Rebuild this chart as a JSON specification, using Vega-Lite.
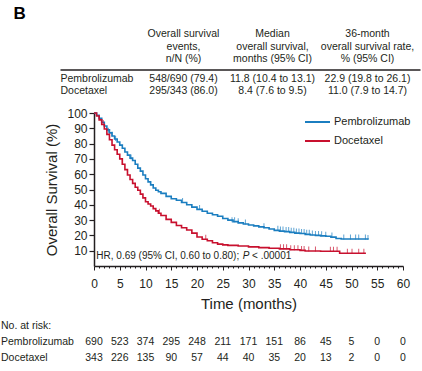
{
  "$schema": "https://vega.github.io/schema/vega-lite/v6.json",
  "padding": {"left": 0, "top": 5, "right": 0, "bottom": 0},
  "spacing": 10,
  "config": {
    "view": {"stroke": null},
    "font": "Liberation Sans",
    "text": {"font": "Liberation Sans", "color": "#231f20"},
    "axis": {"grid": false, "labelOverlap": false, "labelFont": "Liberation Sans", "titleFont": "Liberation Sans", "labelColor": "#231f20", "titleColor": "#231f20", "domainColor": "#231f20", "tickColor": "#231f20", "titleFontWeight": "normal"}
  },
  "datasets": {
    "survival": [
      {"group": "Pembrolizumab", "time": 0, "surv": 100},
      {"group": "Pembrolizumab", "time": 0.5, "surv": 98.5},
      {"group": "Pembrolizumab", "time": 1, "surv": 96.5},
      {"group": "Pembrolizumab", "time": 1.5, "surv": 94},
      {"group": "Pembrolizumab", "time": 2, "surv": 91.5},
      {"group": "Pembrolizumab", "time": 2.5, "surv": 89},
      {"group": "Pembrolizumab", "time": 3, "surv": 87},
      {"group": "Pembrolizumab", "time": 3.5, "surv": 85},
      {"group": "Pembrolizumab", "time": 4, "surv": 83},
      {"group": "Pembrolizumab", "time": 4.5, "surv": 81},
      {"group": "Pembrolizumab", "time": 5, "surv": 79},
      {"group": "Pembrolizumab", "time": 5.5, "surv": 77},
      {"group": "Pembrolizumab", "time": 6, "surv": 74.5},
      {"group": "Pembrolizumab", "time": 6.5, "surv": 72.5},
      {"group": "Pembrolizumab", "time": 7, "surv": 70.5},
      {"group": "Pembrolizumab", "time": 7.5, "surv": 69},
      {"group": "Pembrolizumab", "time": 8, "surv": 66.5},
      {"group": "Pembrolizumab", "time": 8.5, "surv": 64},
      {"group": "Pembrolizumab", "time": 9, "surv": 62},
      {"group": "Pembrolizumab", "time": 9.5, "surv": 59.5},
      {"group": "Pembrolizumab", "time": 10, "surv": 57},
      {"group": "Pembrolizumab", "time": 10.5, "surv": 55},
      {"group": "Pembrolizumab", "time": 11, "surv": 53},
      {"group": "Pembrolizumab", "time": 11.5, "surv": 51},
      {"group": "Pembrolizumab", "time": 12, "surv": 49.5},
      {"group": "Pembrolizumab", "time": 12.5, "surv": 48.5},
      {"group": "Pembrolizumab", "time": 13, "surv": 47.5},
      {"group": "Pembrolizumab", "time": 14, "surv": 45.5},
      {"group": "Pembrolizumab", "time": 15, "surv": 44},
      {"group": "Pembrolizumab", "time": 16, "surv": 43},
      {"group": "Pembrolizumab", "time": 17, "surv": 41.5},
      {"group": "Pembrolizumab", "time": 18, "surv": 40},
      {"group": "Pembrolizumab", "time": 19, "surv": 38.5},
      {"group": "Pembrolizumab", "time": 20, "surv": 37},
      {"group": "Pembrolizumab", "time": 21, "surv": 35.8},
      {"group": "Pembrolizumab", "time": 22, "surv": 34.5},
      {"group": "Pembrolizumab", "time": 23, "surv": 33.5},
      {"group": "Pembrolizumab", "time": 24, "surv": 32.5},
      {"group": "Pembrolizumab", "time": 25, "surv": 31},
      {"group": "Pembrolizumab", "time": 26, "surv": 30},
      {"group": "Pembrolizumab", "time": 27, "surv": 29},
      {"group": "Pembrolizumab", "time": 28, "surv": 28.2},
      {"group": "Pembrolizumab", "time": 29, "surv": 27.5},
      {"group": "Pembrolizumab", "time": 30, "surv": 26.8},
      {"group": "Pembrolizumab", "time": 31, "surv": 26.2},
      {"group": "Pembrolizumab", "time": 32, "surv": 25.6},
      {"group": "Pembrolizumab", "time": 33, "surv": 25},
      {"group": "Pembrolizumab", "time": 34, "surv": 24.2},
      {"group": "Pembrolizumab", "time": 35, "surv": 23.3},
      {"group": "Pembrolizumab", "time": 36, "surv": 22.8},
      {"group": "Pembrolizumab", "time": 37, "surv": 22.5},
      {"group": "Pembrolizumab", "time": 38, "surv": 22},
      {"group": "Pembrolizumab", "time": 39, "surv": 21.5},
      {"group": "Pembrolizumab", "time": 40, "surv": 21.2},
      {"group": "Pembrolizumab", "time": 41, "surv": 20.7},
      {"group": "Pembrolizumab", "time": 42, "surv": 20.3},
      {"group": "Pembrolizumab", "time": 43, "surv": 20},
      {"group": "Pembrolizumab", "time": 44, "surv": 19.7},
      {"group": "Pembrolizumab", "time": 45, "surv": 19.4},
      {"group": "Pembrolizumab", "time": 46, "surv": 18.9},
      {"group": "Pembrolizumab", "time": 47, "surv": 18},
      {"group": "Pembrolizumab", "time": 48, "surv": 17.6},
      {"group": "Pembrolizumab", "time": 53.2, "surv": 17.4},
      {"group": "Docetaxel", "time": 0, "surv": 100},
      {"group": "Docetaxel", "time": 0.5, "surv": 98},
      {"group": "Docetaxel", "time": 1, "surv": 95.5},
      {"group": "Docetaxel", "time": 1.5, "surv": 92.5},
      {"group": "Docetaxel", "time": 2, "surv": 89.5},
      {"group": "Docetaxel", "time": 2.5, "surv": 86},
      {"group": "Docetaxel", "time": 3, "surv": 82.5},
      {"group": "Docetaxel", "time": 3.5, "surv": 79},
      {"group": "Docetaxel", "time": 4, "surv": 76},
      {"group": "Docetaxel", "time": 4.5, "surv": 73},
      {"group": "Docetaxel", "time": 5, "surv": 70},
      {"group": "Docetaxel", "time": 5.5, "surv": 66.5},
      {"group": "Docetaxel", "time": 6, "surv": 63},
      {"group": "Docetaxel", "time": 6.5, "surv": 59.5},
      {"group": "Docetaxel", "time": 7, "surv": 56.5},
      {"group": "Docetaxel", "time": 7.5, "surv": 54},
      {"group": "Docetaxel", "time": 8, "surv": 51.5},
      {"group": "Docetaxel", "time": 8.5, "surv": 49.5},
      {"group": "Docetaxel", "time": 9, "surv": 47},
      {"group": "Docetaxel", "time": 9.5, "surv": 44.5},
      {"group": "Docetaxel", "time": 10, "surv": 42},
      {"group": "Docetaxel", "time": 10.5, "surv": 40.5},
      {"group": "Docetaxel", "time": 11, "surv": 39.2},
      {"group": "Docetaxel", "time": 11.5, "surv": 37.5},
      {"group": "Docetaxel", "time": 12, "surv": 36},
      {"group": "Docetaxel", "time": 12.5, "surv": 34.5},
      {"group": "Docetaxel", "time": 13, "surv": 33},
      {"group": "Docetaxel", "time": 14, "surv": 30.5},
      {"group": "Docetaxel", "time": 15, "surv": 28.5},
      {"group": "Docetaxel", "time": 16, "surv": 26.5},
      {"group": "Docetaxel", "time": 17, "surv": 25},
      {"group": "Docetaxel", "time": 18, "surv": 23.5},
      {"group": "Docetaxel", "time": 19, "surv": 21.5},
      {"group": "Docetaxel", "time": 20, "surv": 19},
      {"group": "Docetaxel", "time": 21, "surv": 17.5},
      {"group": "Docetaxel", "time": 22, "surv": 16.5},
      {"group": "Docetaxel", "time": 23, "surv": 15.2},
      {"group": "Docetaxel", "time": 24, "surv": 14.3},
      {"group": "Docetaxel", "time": 25, "surv": 13.8},
      {"group": "Docetaxel", "time": 26, "surv": 13.5},
      {"group": "Docetaxel", "time": 28, "surv": 13.1},
      {"group": "Docetaxel", "time": 30, "surv": 12.5},
      {"group": "Docetaxel", "time": 32, "surv": 12},
      {"group": "Docetaxel", "time": 34, "surv": 11.6},
      {"group": "Docetaxel", "time": 36, "surv": 11.2},
      {"group": "Docetaxel", "time": 38, "surv": 10.6},
      {"group": "Docetaxel", "time": 40, "surv": 10.2},
      {"group": "Docetaxel", "time": 41, "surv": 9.8},
      {"group": "Docetaxel", "time": 44, "surv": 9.6},
      {"group": "Docetaxel", "time": 47.7, "surv": 8.3},
      {"group": "Docetaxel", "time": 52.8, "surv": 8.3}
    ],
    "censor": [
      {"group": "Pembrolizumab", "time": 2.8, "surv": 87.5},
      {"group": "Pembrolizumab", "time": 3.5, "surv": 85},
      {"group": "Pembrolizumab", "time": 4.2, "surv": 82},
      {"group": "Pembrolizumab", "time": 7.2, "surv": 70},
      {"group": "Pembrolizumab", "time": 17.2, "surv": 41.5},
      {"group": "Pembrolizumab", "time": 20.5, "surv": 37},
      {"group": "Pembrolizumab", "time": 26.8, "surv": 29},
      {"group": "Pembrolizumab", "time": 27.3, "surv": 29},
      {"group": "Pembrolizumab", "time": 28, "surv": 28.2},
      {"group": "Pembrolizumab", "time": 29.4, "surv": 27.5},
      {"group": "Pembrolizumab", "time": 33, "surv": 25},
      {"group": "Pembrolizumab", "time": 35.7, "surv": 23.3},
      {"group": "Pembrolizumab", "time": 36.2, "surv": 22.8},
      {"group": "Pembrolizumab", "time": 36.7, "surv": 22.8},
      {"group": "Pembrolizumab", "time": 37.3, "surv": 22.5},
      {"group": "Pembrolizumab", "time": 37.8, "surv": 22.5},
      {"group": "Pembrolizumab", "time": 38.3, "surv": 22},
      {"group": "Pembrolizumab", "time": 38.8, "surv": 22},
      {"group": "Pembrolizumab", "time": 39.3, "surv": 21.5},
      {"group": "Pembrolizumab", "time": 39.8, "surv": 21.5},
      {"group": "Pembrolizumab", "time": 40.3, "surv": 21.2},
      {"group": "Pembrolizumab", "time": 40.8, "surv": 21.2},
      {"group": "Pembrolizumab", "time": 41.3, "surv": 20.7},
      {"group": "Pembrolizumab", "time": 41.8, "surv": 20.7},
      {"group": "Pembrolizumab", "time": 42.4, "surv": 20.3},
      {"group": "Pembrolizumab", "time": 43, "surv": 20},
      {"group": "Pembrolizumab", "time": 43.6, "surv": 20},
      {"group": "Pembrolizumab", "time": 44.2, "surv": 19.7},
      {"group": "Pembrolizumab", "time": 45, "surv": 19.4},
      {"group": "Pembrolizumab", "time": 46.2, "surv": 18.9},
      {"group": "Pembrolizumab", "time": 48.5, "surv": 17.6},
      {"group": "Pembrolizumab", "time": 49.8, "surv": 17.6},
      {"group": "Pembrolizumab", "time": 50.8, "surv": 17.6},
      {"group": "Pembrolizumab", "time": 51.4, "surv": 17.6},
      {"group": "Pembrolizumab", "time": 52.7, "surv": 17.6},
      {"group": "Pembrolizumab", "time": 53.2, "surv": 17.4},
      {"group": "Docetaxel", "time": 1.8, "surv": 92.5},
      {"group": "Docetaxel", "time": 5.5, "surv": 66.5},
      {"group": "Docetaxel", "time": 12.7, "surv": 34.5},
      {"group": "Docetaxel", "time": 21.7, "surv": 17.5},
      {"group": "Docetaxel", "time": 36.2, "surv": 11.2},
      {"group": "Docetaxel", "time": 36.8, "surv": 11.2},
      {"group": "Docetaxel", "time": 37.4, "surv": 11.2},
      {"group": "Docetaxel", "time": 38.2, "surv": 10.6},
      {"group": "Docetaxel", "time": 38.9, "surv": 10.6},
      {"group": "Docetaxel", "time": 39.6, "surv": 10.6},
      {"group": "Docetaxel", "time": 40.3, "surv": 10.2},
      {"group": "Docetaxel", "time": 40.8, "surv": 10.2},
      {"group": "Docetaxel", "time": 41.7, "surv": 9.8},
      {"group": "Docetaxel", "time": 43, "surv": 9.8},
      {"group": "Docetaxel", "time": 45.9, "surv": 9.6},
      {"group": "Docetaxel", "time": 46.5, "surv": 9.6},
      {"group": "Docetaxel", "time": 47.2, "surv": 9.6},
      {"group": "Docetaxel", "time": 49.2, "surv": 8.3},
      {"group": "Docetaxel", "time": 50.1, "surv": 8.3},
      {"group": "Docetaxel", "time": 51.4, "surv": 8.3},
      {"group": "Docetaxel", "time": 52.4, "surv": 8.3}
    ],
    "risk": [
      {"group": "Pembrolizumab", "time": 0, "n": 690},
      {"group": "Pembrolizumab", "time": 5, "n": 523},
      {"group": "Pembrolizumab", "time": 10, "n": 374},
      {"group": "Pembrolizumab", "time": 15, "n": 295},
      {"group": "Pembrolizumab", "time": 20, "n": 248},
      {"group": "Pembrolizumab", "time": 25, "n": 211},
      {"group": "Pembrolizumab", "time": 30, "n": 171},
      {"group": "Pembrolizumab", "time": 35, "n": 151},
      {"group": "Pembrolizumab", "time": 40, "n": 86},
      {"group": "Pembrolizumab", "time": 45, "n": 45},
      {"group": "Pembrolizumab", "time": 50, "n": 5},
      {"group": "Pembrolizumab", "time": 55, "n": 0},
      {"group": "Pembrolizumab", "time": 60, "n": 0},
      {"group": "Docetaxel", "time": 0, "n": 343},
      {"group": "Docetaxel", "time": 5, "n": 226},
      {"group": "Docetaxel", "time": 10, "n": 135},
      {"group": "Docetaxel", "time": 15, "n": 90},
      {"group": "Docetaxel", "time": 20, "n": 57},
      {"group": "Docetaxel", "time": 25, "n": 44},
      {"group": "Docetaxel", "time": 30, "n": 40},
      {"group": "Docetaxel", "time": 35, "n": 35},
      {"group": "Docetaxel", "time": 40, "n": 20},
      {"group": "Docetaxel", "time": 45, "n": 13},
      {"group": "Docetaxel", "time": 50, "n": 2},
      {"group": "Docetaxel", "time": 55, "n": 0},
      {"group": "Docetaxel", "time": 60, "n": 0}
    ],
    "table": [
      {"col": 1, "line": 1, "text": "Overall survival"},
      {"col": 1, "line": 2, "text": "events,"},
      {"col": 1, "line": 3, "text": "n/N (%)"},
      {"col": 2, "line": 1, "text": "Median"},
      {"col": 2, "line": 2, "text": "overall survival,"},
      {"col": 2, "line": 3, "text": "months (95% CI)"},
      {"col": 3, "line": 1, "text": "36-month"},
      {"col": 3, "line": 2, "text": "overall survival rate,"},
      {"col": 3, "line": 3, "text": "% (95% CI)"},
      {"col": 0, "line": 4, "text": "Pembrolizumab"},
      {"col": 1, "line": 4, "text": "548/690 (79.4)"},
      {"col": 2, "line": 4, "text": "11.8 (10.4 to 13.1)"},
      {"col": 3, "line": 4, "text": "22.9 (19.8 to 26.1)"},
      {"col": 0, "line": 5, "text": "Docetaxel"},
      {"col": 1, "line": 5, "text": "295/343 (86.0)"},
      {"col": 2, "line": 5, "text": "8.4 (7.6 to 9.5)"},
      {"col": 3, "line": 5, "text": "11.0 (7.9 to 14.7)"}
    ]
  },
  "vconcat": [
    {
      "width": 309,
      "height": 77,
      "layer": [
        {
          "data": {"values": [{}]},
          "mark": {"type": "text", "text": "B", "fontSize": 17, "fontWeight": "bold", "align": "left", "baseline": "middle", "color": "#000000"},
          "encoding": {
            "x": {"datum": -1, "type": "quantitative", "scale": {"domain": [-1, 0, 1, 2, 3, 4], "range": [-80.5, -33.5, 89.5, 178.5, 273.5, 326.5], "zero": false, "nice": false}, "axis": null},
            "y": {"datum": 0, "type": "quantitative", "scale": {"domain": [0, 1, 3, 3.5, 4, 5], "range": [0, 20, 45, 55, 65, 77], "zero": false, "nice": false}, "axis": null}
          }
        },
        {
          "data": {"name": "table"},
          "transform": [{"filter": "datum.col == 0"}],
          "mark": {"type": "text", "align": "left", "baseline": "middle", "fontSize": 10.5},
          "encoding": {
            "x": {"datum": 0, "type": "quantitative", "axis": null},
            "y": {"field": "line", "type": "quantitative", "axis": null},
            "text": {"field": "text"}
          }
        },
        {
          "data": {"name": "table"},
          "transform": [{"filter": "datum.col > 0"}],
          "mark": {"type": "text", "align": "center", "baseline": "middle", "fontSize": 10.5},
          "encoding": {
            "x": {"field": "col", "type": "quantitative", "axis": null},
            "y": {"field": "line", "type": "quantitative", "axis": null},
            "text": {"field": "text"}
          }
        },
        {
          "data": {"values": [{}]},
          "mark": {"type": "rule", "strokeWidth": 1.5, "color": "#231f20"},
          "encoding": {
            "x": {"datum": 0, "type": "quantitative", "axis": null},
            "x2": {"datum": 4},
            "y": {"datum": 3.55, "type": "quantitative", "axis": null}
          }
        }
      ]
    },
    {
      "width": 309,
      "height": 153,
      "layer": [
        {
          "data": {"name": "survival"},
          "mark": {"type": "line", "interpolate": "step-after", "strokeWidth": 1.6},
          "encoding": {
            "x": {
              "field": "time", "type": "quantitative",
              "scale": {"domain": [0, 60], "nice": false, "zero": false},
              "axis": {
                "title": "Time (months)", "titleFontSize": 15, "titlePadding": 7,
                "values": [0,1,2,3,4,5,6,7,8,9,10,11,12,13,14,15,16,17,18,19,20,21,22,23,24,25,26,27,28,29,30,31,32,33,34,35,36,37,38,39,40,41,42,43,44,45,46,47,48,49,50,51,52,53,54,55,56,57,58,59,60],
                "tickCount": 200,
                "format": "d",
                "labelExpr": "datum.value % 5 === 0 ? datum.label : ''",
                "tickSize": {"condition": {"test": "datum.value % 5 === 0", "value": 4}, "value": 2},
                "labelFontSize": 12, "labelPadding": 8, "labelOverlap": false, "labelFlush": false,
                "domainWidth": 1.5, "tickWidth": 1
              }
            },
            "y": {
              "field": "surv", "type": "quantitative",
              "scale": {"domain": [0, 100], "nice": false, "zero": true},
              "axis": {
                "title": "Overall Survival (%)", "titleFontSize": 15, "titlePadding": 7,
                "values": [10, 20, 30, 40, 50, 60, 70, 80, 90, 100],
                "tickCount": 50,
                "format": "d",
                "labelFontSize": 12, "labelPadding": 2, "tickSize": 5, "labelOverlap": false,
                "domainWidth": 1.5, "tickWidth": 1.2
              }
            },
            "color": {
              "field": "group", "type": "nominal",
              "scale": {"domain": ["Pembrolizumab", "Docetaxel"], "range": ["#1b7ec0", "#c8102e"]},
              "legend": {
                "orient": "none", "legendX": 210, "legendY": 94.5, "title": null, "padding": 0,
                "symbolType": "stroke", "symbolSize": 625, "symbolStrokeWidth": 2,
                "labelFontSize": 11, "labelFont": "Liberation Sans", "labelColor": "#231f20", "labelOffset": 3, "rowPadding": -2.5
              }
            }
          }
        },
        {
          "data": {"name": "censor"},
          "mark": {"type": "tick", "orient": "vertical", "size": 5, "thickness": 1, "yOffset": -2},
          "encoding": {
            "x": {"field": "time", "type": "quantitative"},
            "y": {"field": "surv", "type": "quantitative"},
            "color": {"field": "group", "type": "nominal", "legend": null}
          }
        },
        {
          "data": {"values": [{}]},
          "mark": {"type": "text", "text": "HR, 0.69 (95% CI, 0.60 to 0.80);", "align": "left", "baseline": "middle", "fontSize": 10},
          "encoding": {
            "x": {"datum": 0.45, "type": "quantitative"},
            "y": {"datum": 6.3, "type": "quantitative"}
          }
        },
        {
          "data": {"values": [{}]},
          "mark": {"type": "text", "text": "P", "align": "left", "baseline": "middle", "fontSize": 10, "fontStyle": "italic"},
          "encoding": {
            "x": {"datum": 28.9, "type": "quantitative"},
            "y": {"datum": 6.3, "type": "quantitative"}
          }
        },
        {
          "data": {"values": [{}]},
          "mark": {"type": "text", "text": "< .00001", "align": "left", "baseline": "middle", "fontSize": 10},
          "encoding": {
            "x": {"datum": 30.7, "type": "quantitative"},
            "y": {"datum": 6.3, "type": "quantitative"}
          }
        }
      ]
    },
    {
      "width": 309,
      "height": 32,
      "layer": [
        {
          "data": {"name": "risk"},
          "mark": {"type": "text", "fontSize": 10.5, "baseline": "middle", "align": "center"},
          "encoding": {
            "x": {"field": "time", "type": "quantitative", "scale": {"domain": [0, 60], "nice": false, "zero": false}, "axis": null},
            "y": {"field": "group", "type": "nominal", "scale": {"type": "point", "domain": ["No. at risk:", "Pembrolizumab", "Docetaxel"], "padding": 0}, "axis": null},
            "text": {"field": "n"}
          }
        },
        {
          "data": {"name": "risk"},
          "transform": [{"filter": "datum.time == 0"}],
          "mark": {"type": "text", "fontSize": 10.5, "baseline": "middle", "align": "left"},
          "encoding": {
            "x": {"datum": -18.06, "type": "quantitative"},
            "y": {"field": "group", "type": "nominal"},
            "text": {"field": "group"}
          }
        },
        {
          "data": {"values": [{}]},
          "mark": {"type": "text", "text": "No. at risk:", "fontSize": 10.5, "baseline": "middle", "align": "left"},
          "encoding": {
            "x": {"datum": -18.06, "type": "quantitative"},
            "y": {"datum": "No. at risk:", "type": "nominal"}
          }
        }
      ]
    }
  ]
}
